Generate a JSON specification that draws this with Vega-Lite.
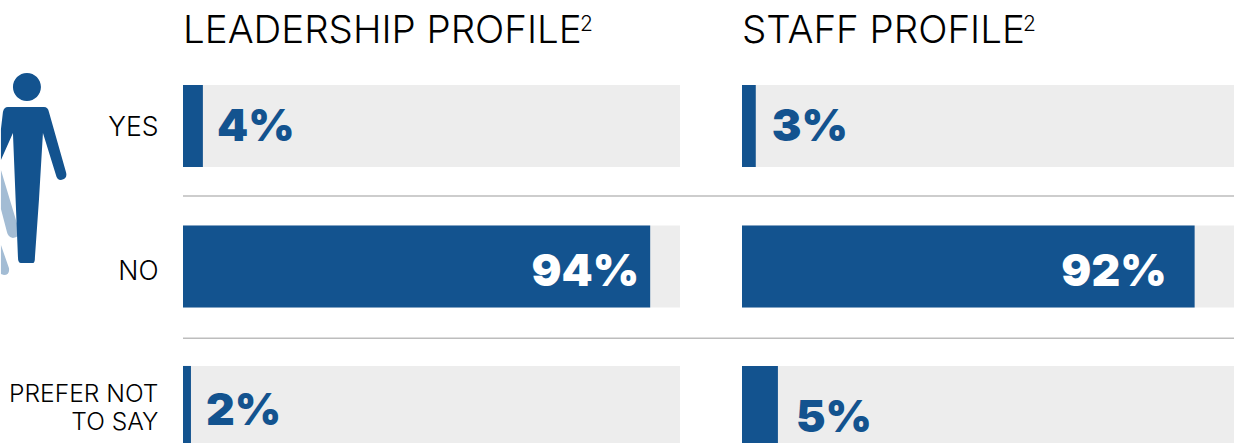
{
"$schema":"https://vega.github.io/schema/vega-lite/v6.json",
"padding":{"left":0,"top":12,"right":0,"bottom":0},
"bounds":"flush",
"spacing":62,
"background":"white",
"config":{"view":{"stroke":null},"font":"Inter"},
"datasets":{
"leadership":[
{"row":"YES","bar":4,"full":100,"label":"4%"},
{"row":"NO","bar":94,"full":100,"label":"94%"},
{"row":"PREFER NOT TO SAY","bar":1.6,"full":100,"label":"2%"}],
"staff":[
{"row":"YES","bar":2.8,"full":100,"label":"3%"},
{"row":"NO","bar":92,"full":100,"label":"92%"},
{"row":"PREFER NOT TO SAY","bar":7.3,"full":100,"label":"5%"}],
"icon":[{"row":"YES","pos":-31.4}],
"titleL":[{"row":"YES","pos":0,"name":"LEADERSHIP PROFILE"}],
"titleR":[{"row":"YES","pos":0,"name":"STAFF PROFILE"}],
"supL":[{"row":"YES","pos":79.9,"sup":"2"}],
"supR":[{"row":"YES","pos":57.1,"sup":"2"}]
},
"hconcat":[
{"width":497,"height":358,
"data":{"name":"leadership"},
"encoding":{"y":{"field":"row","type":"nominal","sort":["YES","NO","PREFER NOT TO SAY"],
"scale":{"range":[0,363],"paddingInner":0.416,"paddingOuter":0},
"axis":{"title":null,"ticks":false,"domain":false,"labelPadding":25,"labelFont":"Inter","labelFontWeight":300,"labelColor":"#000000","labelLineHeight":28,
"labelFontSize":{"condition":{"test":"datum.value=='PREFER NOT TO SAY'","value":24.6},"value":26.5},
"labelOffset":{"condition":[{"test":"datum.value=='PREFER NOT TO SAY'","value":-12},{"test":"datum.value=='YES'","value":1.5}],"value":5.5},
"labelExpr":"datum.value=='PREFER NOT TO SAY'?['PREFER NOT','TO SAY']:datum.value"}}},
"layer":[
{"mark":{"type":"bar","color":"#ededed","clip":true},
"encoding":{"x":{"field":"full","type":"quantitative","scale":{"domain":[0,100],"nice":false},"axis":null}}},
{"mark":{"type":"bar","color":"#13538f","clip":true},
"encoding":{"x":{"field":"bar","type":"quantitative"}}},
{"transform":[{"filter":"datum.row=='YES'"}],
"mark":{"type":"rule","color":"#bdbdbd","strokeWidth":1.5},
"encoding":{"x":{"datum":0},"x2":{"datum":211.47},"y":{"field":"row","type":"nominal","bandPosition":1.353,"sort":["YES","NO","PREFER NOT TO SAY"]}}},
{"transform":[{"filter":"datum.row=='NO'"}],
"mark":{"type":"rule","color":"#bdbdbd","strokeWidth":1.5},
"encoding":{"x":{"datum":0},"x2":{"datum":211.47},"y":{"field":"row","type":"nominal","bandPosition":1.376,"sort":["YES","NO","PREFER NOT TO SAY"]}}},
{"transform":[{"filter":"datum.row=='YES'"}],
"mark":{"type":"text","align":"left","baseline":"middle","dx":14,"dy":2,"font":"Inter","fontWeight":900,"fontSize":44.5,"color":"#13538f"},
"encoding":{"x":{"field":"bar","type":"quantitative"},"text":{"field":"label"}}},
{"transform":[{"filter":"datum.row=='PREFER NOT TO SAY'"}],
"mark":{"type":"text","align":"left","baseline":"middle","dx":15,"dy":5,"font":"Inter","fontWeight":900,"fontSize":44.5,"color":"#13538f"},
"encoding":{"x":{"field":"bar","type":"quantitative"},"text":{"field":"label"}}},
{"transform":[{"filter":"datum.row=='NO'"}],
"mark":{"type":"text","align":"right","baseline":"middle","dx":-11,"dy":6,"font":"Inter","fontWeight":900,"fontSize":44.5,"color":"#ffffff"},
"encoding":{"x":{"field":"bar","type":"quantitative"},"text":{"field":"label"}}},
{"data":{"name":"titleL"},
"mark":{"type":"text","align":"left","baseline":"alphabetic","dy":-42,"font":"Inter","fontWeight":300,"fontSize":38.5,"color":"#000000"},
"encoding":{"x":{"field":"pos","type":"quantitative"},"y":{"field":"row","type":"nominal","bandPosition":0,"sort":["YES","NO","PREFER NOT TO SAY"]},"text":{"field":"name"}}},
{"data":{"name":"supL"},
"mark":{"type":"text","align":"left","baseline":"middle","dy":-60,"font":"Inter","fontWeight":300,"fontSize":21,"color":"#000000"},
"encoding":{"x":{"field":"pos","type":"quantitative"},"y":{"field":"row","type":"nominal","bandPosition":0,"sort":["YES","NO","PREFER NOT TO SAY"]},"text":{"field":"sup"}}},
{"data":{"name":"icon"},
"mark":{"type":"point","filled":true,"size":4,"color":"#a3bcd4","opacity":1,
"shape":"M-26,3 L-8,63 Q-6,70 -14,71 Q-19,70 -20,65 L-26,42 Z M-26,78 L-18,101 Q-17,108 -23,108 L-26,107 Z"},
"encoding":{"x":{"field":"pos","type":"quantitative"},"y":{"field":"row","type":"nominal","bandPosition":1,"sort":["YES","NO","PREFER NOT TO SAY"]}}},
{"data":{"name":"icon"},
"mark":{"type":"point","filled":true,"size":4,"color":"#13538f","opacity":1,
"shape":"M-14,-80 A14,14 0 1,0 14,-80 A14,14 0 1,0 -14,-80 Z M-19,-60 L17,-60 Q21,-60 22,-55 L39,5 Q41,12 34,13 Q30,13 29,8 L16,-34 L12,33 L8,90 Q8,96 6,96 L-6,96 Q-9,96 -9,90 L-14,-34 L-26,-7 L-26,-38 L-24,-55 Q-23,-60 -19,-60 Z"},
"encoding":{"x":{"field":"pos","type":"quantitative"},"y":{"field":"row","type":"nominal","bandPosition":1,"sort":["YES","NO","PREFER NOT TO SAY"]}}}
]},
{"width":492,"height":358,
"data":{"name":"staff"},
"encoding":{"y":{"field":"row","type":"nominal","sort":["YES","NO","PREFER NOT TO SAY"],
"scale":{"range":[0,363],"paddingInner":0.416,"paddingOuter":0},"axis":null}},
"layer":[
{"mark":{"type":"bar","color":"#ededed","clip":true},
"encoding":{"x":{"field":"full","type":"quantitative","scale":{"domain":[0,100],"nice":false},"axis":null}}},
{"mark":{"type":"bar","color":"#13538f","clip":true},
"encoding":{"x":{"field":"bar","type":"quantitative"}}},
{"transform":[{"filter":"datum.row=='YES'"}],
"mark":{"type":"text","align":"left","baseline":"middle","dx":16,"dy":2,"font":"Inter","fontWeight":900,"fontSize":44.5,"color":"#13538f"},
"encoding":{"x":{"field":"bar","type":"quantitative"},"text":{"field":"label"}}},
{"transform":[{"filter":"datum.row=='PREFER NOT TO SAY'"}],
"mark":{"type":"text","align":"left","baseline":"middle","dx":18,"dy":12,"font":"Inter","fontWeight":900,"fontSize":44.5,"color":"#13538f"},
"encoding":{"x":{"field":"bar","type":"quantitative"},"text":{"field":"label"}}},
{"transform":[{"filter":"datum.row=='NO'"}],
"mark":{"type":"text","align":"right","baseline":"middle","dx":-28,"dy":6,"font":"Inter","fontWeight":900,"fontSize":44.5,"color":"#ffffff"},
"encoding":{"x":{"field":"bar","type":"quantitative"},"text":{"field":"label"}}},
{"data":{"name":"titleR"},
"mark":{"type":"text","align":"left","baseline":"alphabetic","dy":-42,"font":"Inter","fontWeight":300,"fontSize":38.5,"color":"#000000"},
"encoding":{"x":{"field":"pos","type":"quantitative"},"y":{"field":"row","type":"nominal","bandPosition":0,"sort":["YES","NO","PREFER NOT TO SAY"]},"text":{"field":"name"}}},
{"data":{"name":"supR"},
"mark":{"type":"text","align":"left","baseline":"middle","dy":-60,"font":"Inter","fontWeight":300,"fontSize":21,"color":"#000000"},
"encoding":{"x":{"field":"pos","type":"quantitative"},"y":{"field":"row","type":"nominal","bandPosition":0,"sort":["YES","NO","PREFER NOT TO SAY"]},"text":{"field":"sup"}}}
]}
]}
